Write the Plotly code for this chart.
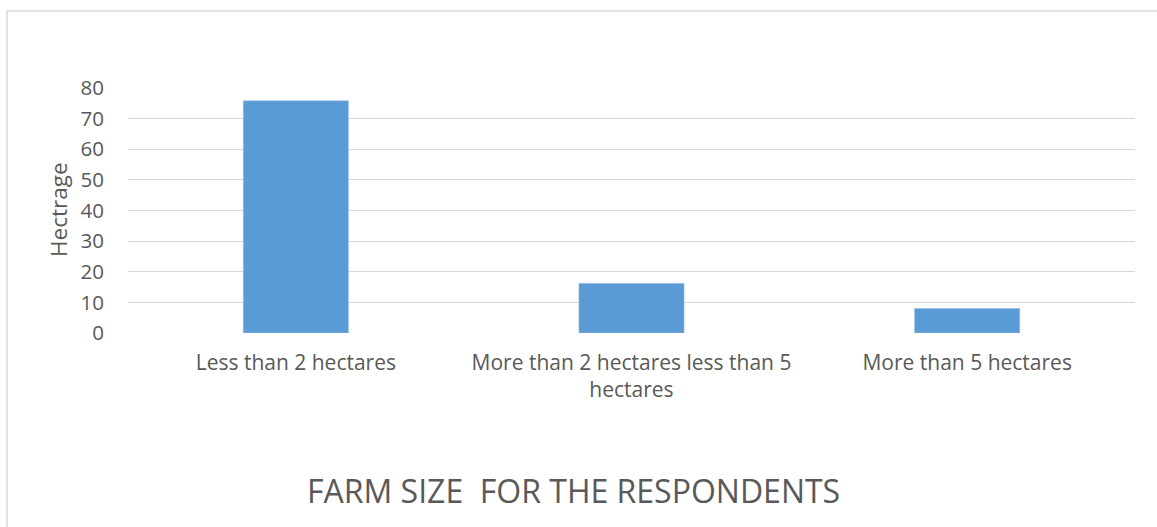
import plotly.graph_objects as go

# Farm size categories and share of respondents
categories = [
    "Less than 2 hectares",
    "More than 2 hectares less than 5<br>hectares",
    "More than 5 hectares",
]
values = [75.8, 16.2, 8.0]
y_ticks = [0, 10, 20, 30, 40, 50, 60, 70, 80]

W, H = 1157, 527
L, R, T, B = 128, 22, 88, 194
pw, ph = W - L - R, H - T - B

def px(x):
    return (x - L) / pw

def py(y):
    return (H - B - y) / ph

text_color = "#595959"
font_family = "'Open Sans', Lato, sans-serif"

fig = go.Figure(
    go.Bar(
        x=categories,
        y=values,
        marker=dict(color="#5b9bd5", line=dict(color="#8fbbe6", width=0.6)),
        width=0.313,
    )
)

fig.update_layout(
    width=W,
    height=H,
    margin=dict(l=L, r=R, t=T, b=B),
    paper_bgcolor="white",
    plot_bgcolor="white",
    showlegend=False,
    font=dict(family=font_family, color=text_color, size=21),
    xaxis=dict(
        showgrid=False,
        showline=False,
        zeroline=False,
        tickfont=dict(size=21, color=text_color),
        ticklabelstandoff=15,
    ),
    yaxis=dict(
        range=[0, 80],
        tickvals=y_ticks,
        showgrid=True,
        gridcolor="#d9d9d9",
        gridwidth=1.3,
        zeroline=False,
        showline=False,
        tickfont=dict(size=20.5, color=text_color),
        ticklabelstandoff=23,
    ),
    shapes=[
        dict(
            type="rect",
            xref="paper",
            yref="paper",
            x0=px(7),
            x1=px(1200),
            y0=py(600),
            y1=py(11),
            line=dict(color="#d9d9d9", width=1.5),
            fillcolor="rgba(0,0,0,0)",
            layer="below",
        )
    ],
    annotations=[
        dict(
            text="Hectrage",
            xref="paper",
            yref="paper",
            x=px(58),
            y=py(210),
            textangle=-90,
            showarrow=False,
            font=dict(size=22.5, color=text_color),
            xanchor="center",
            yanchor="middle",
        ),
        dict(
            text="FARM SIZE  FOR THE RESPONDENTS",
            xref="paper",
            yref="paper",
            x=px(573),
            y=py(490),
            showarrow=False,
            font=dict(size=32, color=text_color),
            xanchor="center",
            yanchor="middle",
        ),
    ],
)

fig.write_html("out.html")
